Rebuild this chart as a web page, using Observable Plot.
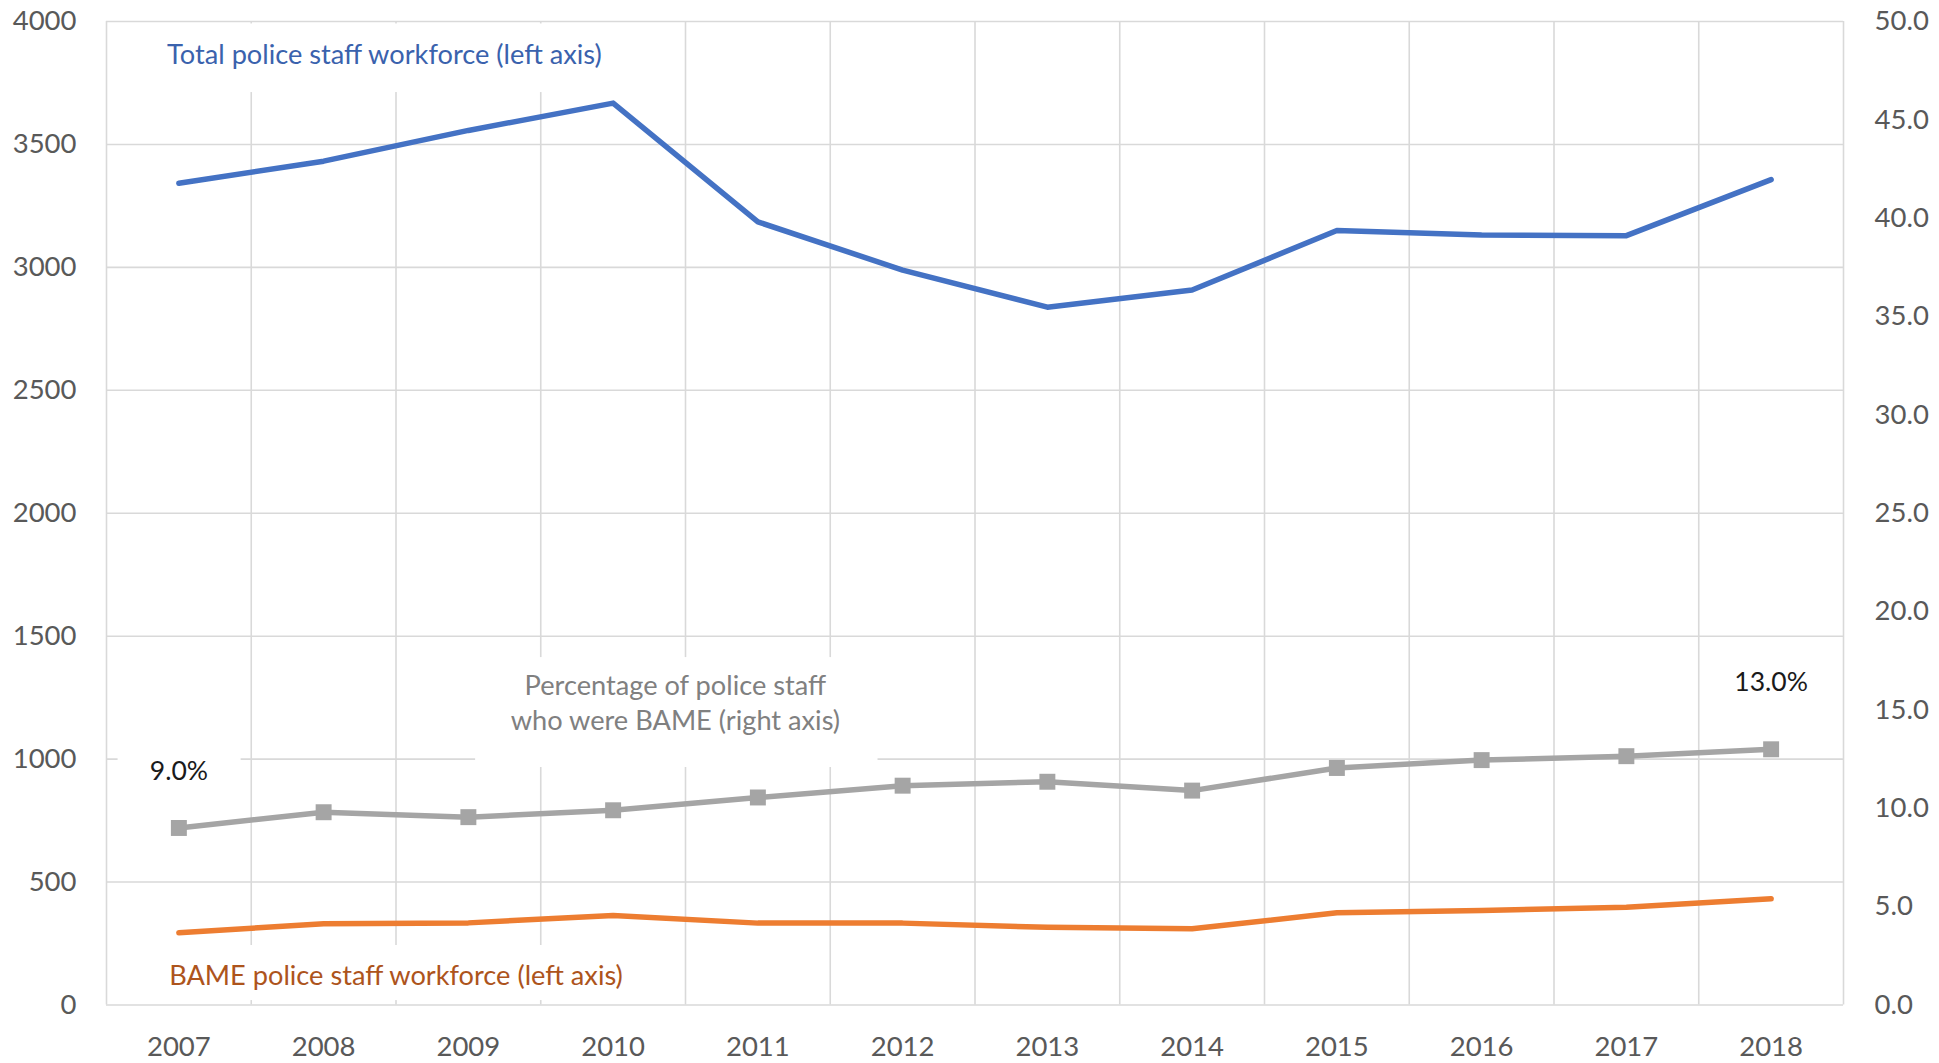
<!DOCTYPE html>
<html>
<head>
<meta charset="utf-8">
<script src="https://cdn.jsdelivr.net/npm/d3@7"></script>
<script src="https://cdn.jsdelivr.net/npm/@observablehq/plot@0.6"></script>
<style>
  html, body { margin: 0; padding: 0; background: #fff; }
  #chart svg { display: block; }
</style>
</head>
<body>
<div id="chart"></div>
<script>
// ---- data ----
const years = [2007, 2008, 2009, 2010, 2011, 2012, 2013, 2014, 2015, 2016, 2017, 2018];
const totalStaff = [3342, 3432, 3557, 3668, 3185, 2989, 2838, 2908, 3150, 3132, 3129, 3357];
const bameStaff = [294, 330, 334, 364, 333, 333, 316, 310, 375, 384, 398, 432];
const bamePct = [9.0, 9.8, 9.55, 9.9, 10.55, 11.15, 11.35, 10.9, 12.05, 12.45, 12.65, 13.0];
const leftTicks = [0, 500, 1000, 1500, 2000, 2500, 3000, 3500, 4000];
const rightTicks = [0, 5, 10, 15, 20, 25, 30, 35, 40, 45, 50];
const yearBounds = [2006.5, 2007.5, 2008.5, 2009.5, 2010.5, 2011.5, 2012.5, 2013.5, 2014.5, 2015.5, 2016.5, 2017.5, 2018.5];

// series labels (data-space anchor points)
const seriesLabels = [
  {x: 2008.42, y: 3875, text: "Total police staff workforce (left axis)", color: "#3a62ad"},
  {x: 2008.5, y: 128, text: "BAME police staff workforce (left axis)", color: "#ad541c"},
  {x: 2010.43, y: 1235, text: "Percentage of police staff\nwho were BAME (right axis)", color: "#808080"}
];
const valueLabels = [
  {x: 2007, y: 950, text: "9.0%"},
  {x: 2018, y: 1311, text: "13.0%"}
];
// white backgrounds behind labels (data-space extents)
const labelBoxes = [
  {x1: 2006.75, x2: 2010.1, y1: 3711, y2: 3990},
  {x1: 2009.05, x2: 2011.83, y1: 966, y2: 1413},
  {x1: 2006.58, x2: 2007.43, y1: 830, y2: 1075},
  {x1: 2006.8, x2: 2010.33, y1: 18, y2: 242}
];

// ---- build ----
const rightScale = 4000 / 50; // right axis 0–50 maps onto left 0–4000
const rows = years.map((yr, i) => ({year: yr, total: totalStaff[i], bame: bameStaff[i], pct: bamePct[i]}));

const grid = "#d9d9d9";
const tickColor = "#595959";

const chart = Plot.plot({
  width: 1939,
  height: 1063,
  marginLeft: 106,
  marginRight: 96,
  marginTop: 21,
  marginBottom: 58.5,
  style: {fontFamily: "Lato, 'Open Sans', sans-serif", fontSize: "27.5px", background: "#fff"},
  x: {type: "linear", domain: [2006.5, 2018.5], axis: null},
  y: {domain: [0, 4000], axis: null},
  marks: [
    Plot.gridY(leftTicks, {stroke: grid, strokeOpacity: 1, strokeWidth: 1.6}),
    Plot.gridX(yearBounds, {stroke: grid, strokeOpacity: 1, strokeWidth: 1.6}),
    Plot.rect(labelBoxes, {x1: "x1", x2: "x2", y1: "y1", y2: "y2", fill: "#fff"}),
    Plot.axisY(leftTicks, {anchor: "left", tickSize: 0, tickPadding: 30, fill: tickColor, fontSize: 27.5, label: null,
      tickFormat: (d) => String(d)}),
    Plot.axisY(rightTicks.map((t) => t * rightScale), {anchor: "right", tickSize: 0, tickPadding: 31, fill: tickColor, fontSize: 27.5, label: null,
      tickFormat: (d) => (d / rightScale).toFixed(1)}),
    Plot.axisX(years, {anchor: "bottom", tickSize: 0, tickPadding: 31, fill: tickColor, fontSize: 27.5, label: null, tickFormat: (d) => String(d)}),
    Plot.line(rows, {x: "year", y: "total", stroke: "#4472c4", strokeWidth: 5.5, strokeLinejoin: "round", strokeLinecap: "round"}),
    Plot.line(rows, {x: "year", y: "bame", stroke: "#ed7d31", strokeWidth: 5.5, strokeLinejoin: "round", strokeLinecap: "round"}),
    Plot.line(rows, {x: "year", y: (d) => d.pct * rightScale, stroke: "#a5a5a5", strokeWidth: 5.5, strokeLinejoin: "round"}),
    Plot.dot(rows, {x: "year", y: (d) => d.pct * rightScale, symbol: "square", r: 9, fill: "#a5a5a5", stroke: "none"}),
    Plot.text(seriesLabels, {x: "x", y: "y", text: "text", fill: "color", fontSize: 27.2, lineHeight: 1.3, textAnchor: "middle"}),
    Plot.text(valueLabels, {x: "x", y: "y", text: "text", fill: "#1a1a1a", fontSize: 26.5, textAnchor: "middle"})
  ]
});

document.getElementById("chart").appendChild(chart);
</script>
</body>
</html>
